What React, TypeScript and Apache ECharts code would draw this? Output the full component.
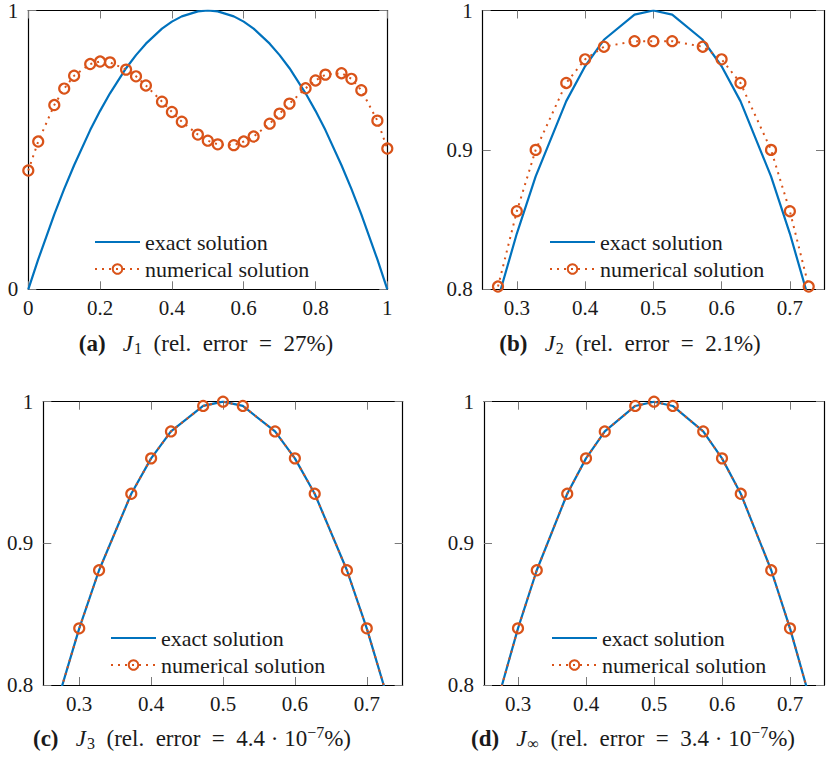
import React, { useEffect, useRef } from "react";
import * as echarts from "echarts";

// Collocation nodes (four Gauss–Lobatto points per element of width 0.1)
const xNodes = [
  0, 0.0276, 0.0724, 0.1, 0.1276, 0.1724, 0.2, 0.2276, 0.2724, 0.3, 0.3276,
  0.3724, 0.4, 0.4276, 0.4724, 0.5, 0.5276, 0.5724, 0.6, 0.6276, 0.6724, 0.7,
  0.7276, 0.7724, 0.8, 0.8276, 0.8724, 0.9, 0.9276, 0.9724, 1,
];

// Exact solution at the nodes
const exactValues = [
  0, 0.107, 0.269, 0.36, 0.445, 0.571, 0.64, 0.703, 0.793, 0.84, 0.881, 0.935,
  0.96, 0.979, 0.997, 1, 0.997, 0.979, 0.96, 0.935, 0.881, 0.84, 0.793, 0.703,
  0.64, 0.571, 0.445, 0.36, 0.269, 0.107, 0,
];

// Numerical solutions for the different functionals
const numericalJ1 = [
  0.426, 0.53, 0.661, 0.72, 0.766, 0.808, 0.817, 0.814, 0.788, 0.764, 0.731,
  0.673, 0.636, 0.601, 0.555, 0.533, 0.52, 0.517, 0.53, 0.548, 0.594, 0.63,
  0.666, 0.721, 0.749, 0.77, 0.775, 0.755, 0.714, 0.605, 0.505,
];
// J2 shown on nodes 0.2724 ... 0.7276
const numericalJ2 = [
  0.802, 0.856, 0.9, 0.948, 0.965, 0.974, 0.978, 0.978, 0.978, 0.974, 0.965,
  0.948, 0.9, 0.856, 0.802,
];
const numericalJ3 = [
  0, 0.107, 0.269, 0.36, 0.445, 0.571, 0.64, 0.703, 0.793, 0.84, 0.881, 0.935,
  0.96, 0.979, 0.997, 1, 0.997, 0.979, 0.96, 0.935, 0.881, 0.84, 0.793, 0.703,
  0.64, 0.571, 0.445, 0.36, 0.269, 0.107, 0,
];
const numericalJInf = [
  0, 0.107, 0.269, 0.36, 0.445, 0.571, 0.64, 0.703, 0.793, 0.84, 0.881, 0.935,
  0.96, 0.979, 0.997, 1, 0.997, 0.979, 0.96, 0.935, 0.881, 0.84, 0.793, 0.703,
  0.64, 0.571, 0.445, 0.36, 0.269, 0.107, 0,
];

const xTicksFull = [0, 0.2, 0.4, 0.6, 0.8, 1];
const yTicksFull = [0, 1];
const xTicksZoom = [0.3, 0.4, 0.5, 0.6, 0.7];
const yTicksZoom = [0.8, 0.9, 1];

const seriesNames = ["exact solution", "numerical solution"];

const BLUE = "#0072BD";
const ORANGE = "#D95319";
const INK = "#1a1a1a";
const FONT = "Liberation Serif";
const FS_TICK = 21;
const FS_LEGEND = 22;
const FS_CAP = 23;

const fmt = (v: number) => String(Math.round(v * 10) / 10);

type Panel = {
  left: number;
  top: number;
  width: number;
  height: number;
  xMin: number;
  xMax: number;
  yMin: number;
  yMax: number;
  xTicks: number[];
  yTicks: number[];
  numX: number[];
  numY: number[];
  legendLeft: number;
  legendTop: number;
};

const zoomX = xNodes.slice(8, 23);

const panels: Panel[] = [
  { left: 28.3, top: 6.7, width: 359, height: 282.6, xMin: 0, xMax: 1, yMin: 0, yMax: 1,
    xTicks: xTicksFull, yTicks: yTicksFull, numX: xNodes, numY: numericalJ1, legendLeft: 94, legendTop: 231 },
  { left: 482.7, top: 6.7, width: 360, height: 282.6, xMin: 0.25, xMax: 0.75, yMin: 0.8, yMax: 1,
    xTicks: xTicksZoom, yTicks: yTicksZoom, numX: zoomX, numY: numericalJ2, legendLeft: 549, legendTop: 231 },
  { left: 43.3, top: 401.7, width: 359.4, height: 283.3, xMin: 0.25, xMax: 0.75, yMin: 0.8, yMax: 1,
    xTicks: xTicksZoom, yTicks: yTicksZoom, numX: xNodes, numY: numericalJ3, legendLeft: 110, legendTop: 627 },
  { left: 484, top: 401.7, width: 360, height: 283.3, xMin: 0.25, xMax: 0.75, yMin: 0.8, yMax: 1,
    xTicks: xTicksZoom, yTicks: yTicksZoom, numX: xNodes, numY: numericalJInf, legendLeft: 551, legendTop: 627 },
];

const captions = [
  { x: 206, y: 343, label: "(a)", sub: "1", err: "27%", sup: "" },
  { x: 630, y: 343, label: "(b)", sub: "2", err: "2.1%", sup: "" },
  { x: 192, y: 738, label: "(c)", sub: "3", err: "4.4 · 10", sup: "−7" },
  { x: 633, y: 738, label: "(d)", sub: "∞", err: "3.4 · 10", sup: "−7" },
];

function buildOption() {
  const grid: any[] = [];
  const xAxis: any[] = [];
  const yAxis: any[] = [];
  const series: any[] = [];
  const legend: any[] = [];

  const axisLine = { show: true, onZero: false, lineStyle: { color: "#000", width: 1.2 } };
  const tickStyle = { color: "#7a7a7a", width: 1 };
  const labelStyle = { fontFamily: FONT, fontSize: FS_TICK, color: INK };

  panels.forEach((p, i) => {
    grid.push({ left: p.left, top: p.top, width: p.width, height: p.height, containLabel: false });
    const xTick = { show: true, inside: true, length: 8, lineStyle: tickStyle, customValues: p.xTicks };
    const yTick = { show: true, inside: true, length: 8, lineStyle: tickStyle, customValues: p.yTicks };
    xAxis.push({
      type: "value", gridIndex: i, min: p.xMin, max: p.xMax, position: "bottom",
      axisLine, splitLine: { show: false }, axisTick: xTick,
      axisLabel: { ...labelStyle, margin: 8, formatter: fmt, customValues: p.xTicks },
    });
    xAxis.push({
      type: "value", gridIndex: i, min: p.xMin, max: p.xMax, position: "top",
      axisLine, splitLine: { show: false }, axisTick: xTick,
      axisLabel: { show: true, color: "rgba(0,0,0,0)", formatter: () => "", customValues: p.xTicks },
    });
    yAxis.push({
      type: "value", gridIndex: i, min: p.yMin, max: p.yMax, position: "left",
      axisLine, splitLine: { show: false }, axisTick: yTick,
      axisLabel: { ...labelStyle, margin: 10, formatter: fmt, customValues: p.yTicks },
    });
    yAxis.push({
      type: "value", gridIndex: i, min: p.yMin, max: p.yMax, position: "right",
      axisLine, splitLine: { show: false }, axisTick: yTick,
      axisLabel: { show: true, color: "rgba(0,0,0,0)", formatter: () => "", customValues: p.yTicks },
    });

    series.push({
      name: seriesNames[0], type: "line", xAxisIndex: 2 * i, yAxisIndex: 2 * i,
      data: xNodes.map((x, k) => [x, exactValues[k]]),
      symbol: "none", clip: true, silent: true, z: 3,
      lineStyle: { color: BLUE, width: 2.2 }, itemStyle: { color: BLUE },
    });
    series.push({
      name: seriesNames[1], type: "line", xAxisIndex: 2 * i, yAxisIndex: 2 * i,
      data: p.numX.map((x, k) => [x, p.numY[k]]),
      symbol: "circle", symbolSize: 10, showAllSymbol: true, clip: true, silent: true, z: 4,
      lineStyle: { color: ORANGE, width: 2, type: [2, 5] },
      itemStyle: { color: "rgba(255,255,255,0)", borderColor: ORANGE, borderWidth: 2.2 },
    });

    legend.push({
      data: [
        { name: seriesNames[0], itemStyle: { color: "rgba(0,0,0,0)", borderWidth: 0, borderColor: "rgba(0,0,0,0)" } },
        { name: seriesNames[1] },
      ],
      orient: "vertical", left: p.legendLeft, top: p.legendTop,
      itemWidth: 45, itemHeight: 12, itemGap: 5, padding: 0, selectedMode: false,
      textStyle: { fontFamily: FONT, fontSize: FS_LEGEND, color: INK, lineHeight: 22 },
    });
  });

  const graphic = captions.map((c) => ({
    type: "text",
    x: c.x,
    y: c.y,
    style: {
      text:
        `{b|${c.label}}{t|   }{i|J}{s|${c.sub}}{t|  (rel.  error  =  ${c.err}}` +
        (c.sup ? `{p|${c.sup}}{t|%)}` : `{t|)}`),
      align: "center",
      verticalAlign: "middle",
      textAlign: "center",
      textVerticalAlign: "middle",
      fill: INK,
      fontFamily: FONT,
      fontSize: FS_CAP,
      rich: {
        b: { fontFamily: FONT, fontSize: FS_CAP, fontWeight: "bold", fill: INK, color: INK },
        t: { fontFamily: FONT, fontSize: FS_CAP, fill: INK, color: INK },
        i: { fontFamily: FONT, fontSize: FS_CAP, fontStyle: "italic", fill: INK, color: INK },
        s: { fontFamily: FONT, fontSize: 16, fill: INK, color: INK, padding: [11, 0, 0, 1] },
        p: { fontFamily: FONT, fontSize: 16, fill: INK, color: INK, padding: [0, 0, 12, 0] },
      },
    },
  }));

  return {
    animation: false,
    backgroundColor: "#fff",
    textStyle: { fontFamily: FONT },
    grid,
    xAxis,
    yAxis,
    series,
    legend,
    graphic,
  };
}

export default function App() {
  const ref = useRef<HTMLDivElement>(null);
  useEffect(() => {
    if (!ref.current) return;
    const chart = echarts.init(ref.current, undefined, { renderer: "svg" });
    chart.setOption(buildOption() as any);
    return () => chart.dispose();
  }, []);
  return (
    <div
      ref={ref}
      style={{ position: "absolute", left: 0, top: 0, width: 835, height: 758, overflow: "hidden", background: "#fff" }}
    />
  );
}
